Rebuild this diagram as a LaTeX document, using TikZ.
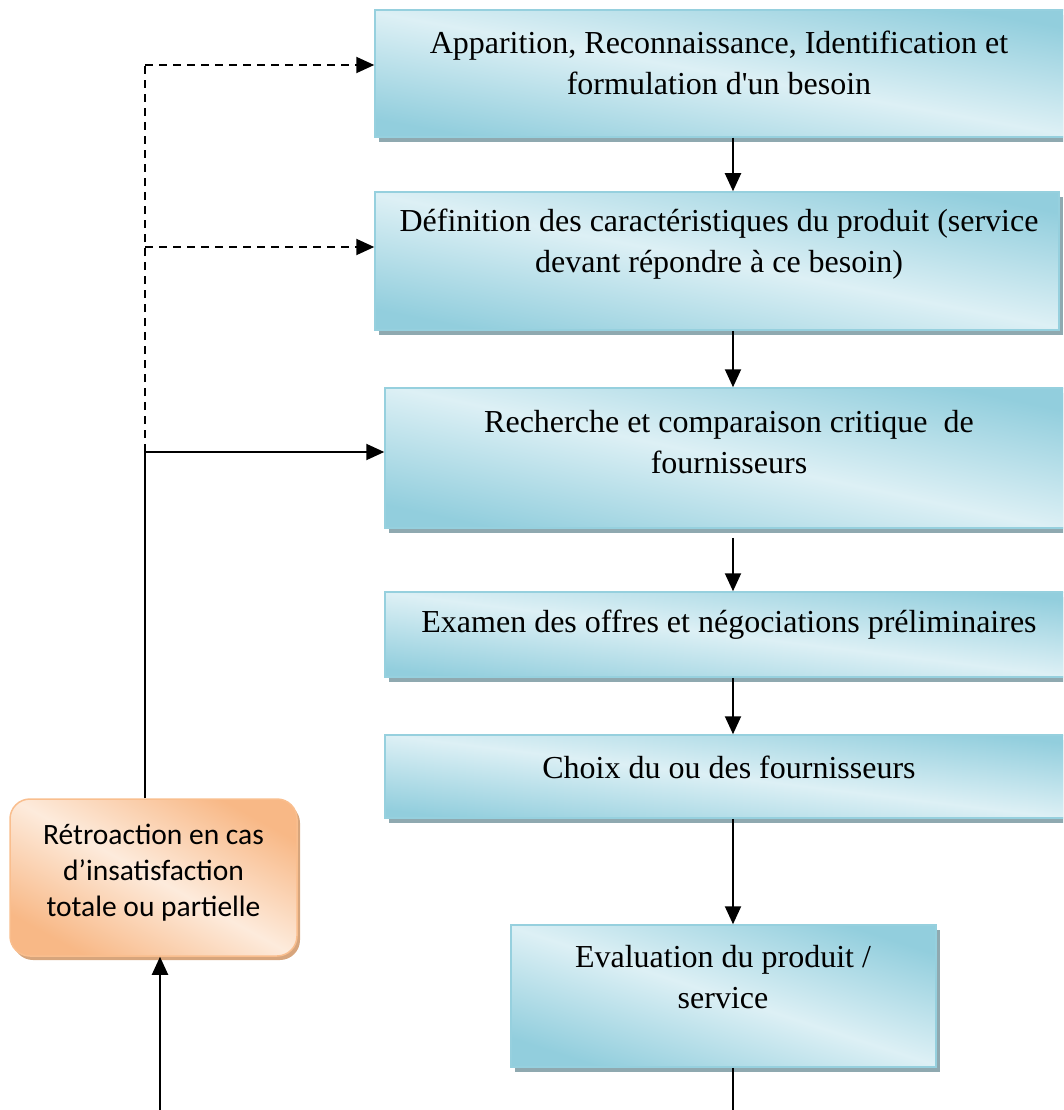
\documentclass[tikz,border=0pt]{standalone}
\usepackage{fontspec}
\setmainfont{Liberation Serif}
\newfontfamily\calibri{Carlito}
\usetikzlibrary{arrows.meta,shadows}

\definecolor{bluedark}{RGB}{146,206,221}
\definecolor{bluelight}{RGB}{221,240,245}
\definecolor{blueedge}{RGB}{150,208,222}
\definecolor{blueshadow}{RGB}{143,169,176}
\definecolor{orangedark}{RGB}{248,184,134}
\definecolor{orangelight}{RGB}{253,235,220}
\definecolor{orangeedge}{RGB}{249,190,142}
\definecolor{orangeshadow}{RGB}{215,165,124}

\tikzset{
  bluebox/.style={rectangle, draw=blueedge, line width=1.5pt,
    top color=bluedark, bottom color=bluedark, middle color=bluelight,
    shading angle=#1,
    general shadow={fill=blueshadow, shadow xshift=4pt, shadow yshift=-5pt}},
  fbbox/.style={rectangle, rounded corners=20pt, draw=orangeedge, line width=1.5pt,
    top color=orangedark, bottom color=orangedark, middle color=orangelight,
    shading angle=#1,
    general shadow={fill=orangeshadow, shadow xshift=3pt, shadow yshift=-4pt}},
  steptext/.style={align=center, font=\fontsize{32pt}{41pt}\selectfont, inner sep=0pt},
  fbtext/.style={align=center, font=\calibri\fontsize{29.5pt}{36pt}\selectfont, inner sep=0pt},
  arr/.style={line width=2pt, -{Triangle[length=18pt,width=16pt]}},
  dasharr/.style={line width=2pt, dash pattern=on 8pt off 6pt, -{Triangle[length=18pt,width=16pt]}},
  link/.style={line width=2pt},
  dashlink/.style={line width=2pt, dash pattern=on 8pt off 6pt}
}
% straight apostrophe, bypassing the TeX ligature mapping
\newcommand{\apos}{\XeTeXglyph\XeTeXcharglyph"27\relax}

\begin{document}
\begin{tikzpicture}[x=1pt,y=-1pt]
\useasboundingbox (0,0) rectangle (1063,1110);
\clip (0,0) rectangle (1063,1110);

% process steps
\node[bluebox=-10, minimum width=690pt, minimum height=127pt] (b1) at (720,73.5) {};
\node[bluebox=-11, minimum width=684pt, minimum height=138pt] (b2) at (717,261) {};
\node[bluebox=-12, minimum width=682pt, minimum height=140pt] (b3) at (726,458) {};
\node[bluebox=-7, minimum width=682pt, minimum height=85pt] (b4) at (726,634.5) {};
\node[bluebox=-7, minimum width=682pt, minimum height=83pt] (b5) at (726,776.5) {};
\node[bluebox=-18, minimum width=425pt, minimum height=142pt] (b6) at (723.5,996) {};

\node[steptext] (t1) at (719,63) {Apparition, Reconnaissance, Identification et\\formulation d\apos un besoin};
\node[steptext] (t2) at (719,244) {Définition des caractéristiques du produit (service\\devant répondre à ce besoin)};
\node[steptext] (t3) at (729,442) {Recherche et comparaison critique\ \ de\\fournisseurs};
\node[steptext] (t4) at (729,625) {Examen des offres et négociations préliminaires};
\node[steptext] (t5) at (729,767) {Choix du ou des fournisseurs};
\node[steptext] (t6) at (723,977) {Evaluation du produit /\\service};

% feedback box
\node[fbbox=-29, minimum width=287pt, minimum height=157pt] (fb) at (153.5,877.5) {};
\node[fbtext] (tf) at (153.5,873) {Rétroaction en cas\\d’insatisfaction\\totale ou partielle};

% routing points
\coordinate (axis) at (733,0);
\coordinate (jn) at (145,452);
\coordinate (c2) at (145,247);
\coordinate (c1) at (145,65);
\coordinate (fbin) at (160,1110);
\coordinate (out) at (733,1110);

% main chain
\draw[arr] (b1.south -| axis) -- (b2.north -| axis);
\draw[arr] (b2.south -| axis) -- (b3.north -| axis);
\draw[arr] ([yshift=-9pt]b3.south -| axis) -- (b4.north -| axis);
\draw[arr] (b4.south -| axis) -- (b5.north -| axis);
\draw[arr] (b5.south -| axis) -- (b6.north -| axis);
\draw[link] (b6.south -| axis) -- (out);

% feedback loop
\draw[arr] (fbin) -- (fb.south -| fbin);
\draw[link] (fb.north -| jn) -- (jn);
\draw[arr] (jn) -- (b3.west |- jn);
\draw[dashlink] (jn) -- (c1);
\draw[dasharr] (c1) -- (b1.west |- c1);
\draw[dasharr] (c2) -- (b2.west |- c2);
\end{tikzpicture}
\end{document}
